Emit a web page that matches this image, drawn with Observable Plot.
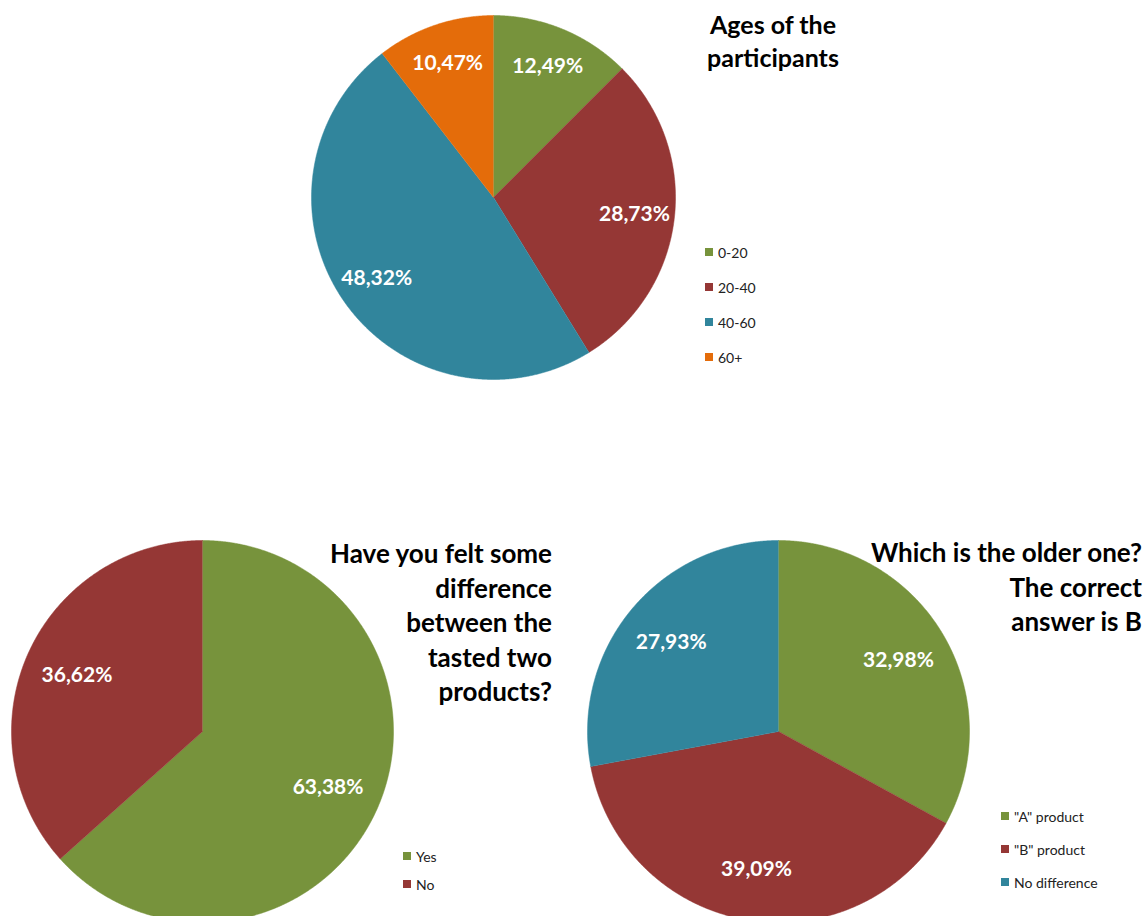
<!DOCTYPE html>
<html>
<head>
<meta charset="utf-8">
<script src="https://cdn.jsdelivr.net/npm/d3@7"></script>
<script src="https://cdn.jsdelivr.net/npm/@observablehq/plot@0.6"></script>
<style>
  html, body { margin: 0; padding: 0; background: #fff; }
  body { width: 1145px; height: 916px; overflow: hidden; position: relative; font-family: Lato, "Open Sans", sans-serif; }
  .abs { position: absolute; }
  .title { font-weight: 700; font-size: 26px; color: #000; line-height: 34.5px; z-index: 2; }
  .legend { font-size: 14px; color: #222; z-index: 2; }
  .legend .item { display: flex; align-items: center; white-space: nowrap; }
  .legend .sw { width: 8px; height: 8px; margin-right: 5px; flex: none; }
  svg { overflow: visible; }
</style>
</head>
<body>
<script>
// ---- Data ----
const ageCategories = ["0-20", "20-40", "40-60", "60+"];
const ageValues = [12.49, 28.73, 48.32, 10.47];
const ageLabels = ["12,49%", "28,73%", "48,32%", "10,47%"];

const diffCategories = ["Yes", "No"];
const diffValues = [63.38, 36.62];
const diffLabels = ["63,38%", "36,62%"];

const olderCategories = ["\"A\" product", "\"B\" product", "No difference"];
const olderValues = [32.98, 39.09, 27.93];
const olderLabels = ["32,98%", "39,09%", "27,93%"];

const palette = ["#77933C", "#953735", "#31859C", "#E46C0A"];

// ---- Pie builder using Plot ----
function pie(categories, values, labels, radius, labelFrac) {
  const arcs = d3.pie().sort(null).value(d => d)(values);
  const pts = [];
  arcs.forEach((a, i) => {
    const key = categories[i];
    pts.push({key, x: 0, y: 0});
    const n = Math.max(2, Math.ceil((a.endAngle - a.startAngle) / 0.005));
    for (let k = 0; k <= n; k++) {
      const t = a.startAngle + (a.endAngle - a.startAngle) * k / n;
      pts.push({key, x: Math.sin(t), y: Math.cos(t)});
    }
  });
  const lab = arcs.map((a, i) => {
    const m = (a.startAngle + a.endAngle) / 2;
    return {key: categories[i], label: labels[i], x: labelFrac * Math.sin(m), y: labelFrac * Math.cos(m)};
  });
  const size = radius * 2;
  return Plot.plot({
    width: size, height: size,
    margin: 0,
    x: {domain: [-1, 1], axis: null},
    y: {domain: [-1, 1], axis: null},
    color: {domain: categories, range: palette.slice(0, categories.length)},
    style: {background: "transparent", overflow: "visible"},
    marks: [
      Plot.line(pts, {x: "x", y: "y", z: "key", fill: "key", stroke: "key", strokeWidth: 0.5, curve: "linear"}),
      Plot.text(lab, {x: "x", y: "y", text: "label", fill: "white", fontSize: 21, fontWeight: 700, fontFamily: "Lato, sans-serif"})
    ]
  });
}

function place(node, left, top) {
  const wrap = document.createElement("div");
  wrap.className = "abs";
  wrap.style.left = left + "px";
  wrap.style.top = top + "px";
  wrap.appendChild(node);
  document.body.appendChild(wrap);
  return wrap;
}

function legend(categories, left, top, gap) {
  const div = document.createElement("div");
  div.className = "abs legend";
  div.style.left = left + "px";
  div.style.top = top + "px";
  categories.forEach((c, i) => {
    const it = document.createElement("div");
    it.className = "item";
    it.style.height = "16px";
    it.style.marginBottom = (gap - 16) + "px";
    const sw = document.createElement("span");
    sw.className = "sw";
    sw.style.background = palette[i];
    const tx = document.createElement("span");
    tx.textContent = c;
    it.appendChild(sw); it.appendChild(tx);
    div.appendChild(it);
  });
  document.body.appendChild(div);
}

function title(lines, style) {
  const div = document.createElement("div");
  div.className = "abs title";
  Object.assign(div.style, style);
  div.innerHTML = lines.map(l => l.replace(/&/g, "&amp;").replace(/</g, "&lt;")).join("<br>");
  document.body.appendChild(div);
}

// Chart 1: ages
place(pie(ageCategories, ageValues, ageLabels, 182, 0.78), 311, 15);
title(["Ages of the", "participants"], {left: "673px", width: "200px", top: "8px", textAlign: "center", lineHeight: "33px", fontSize: "25px"});
legend(ageCategories, 705, 244, 35);

// Chart 2: difference felt
place(pie(diffCategories, diffValues, diffLabels, 191, 0.72), 11, 540);
title(["Have you felt some", "difference", "between the", "tasted two", "products?"], {left: "200px", width: "352px", top: "536px", textAlign: "right"});
legend(diffCategories, 403, 848, 28);

// Chart 3: older one
place(pie(olderCategories, olderValues, olderLabels, 191, 0.73), 587, 540);
title(["Which is the older one?", "The correct", "answer is B"], {left: "700px", width: "442px", top: "535px", textAlign: "right"});
legend(olderCategories, 1001, 808, 33);
</script>
</body>
</html>
